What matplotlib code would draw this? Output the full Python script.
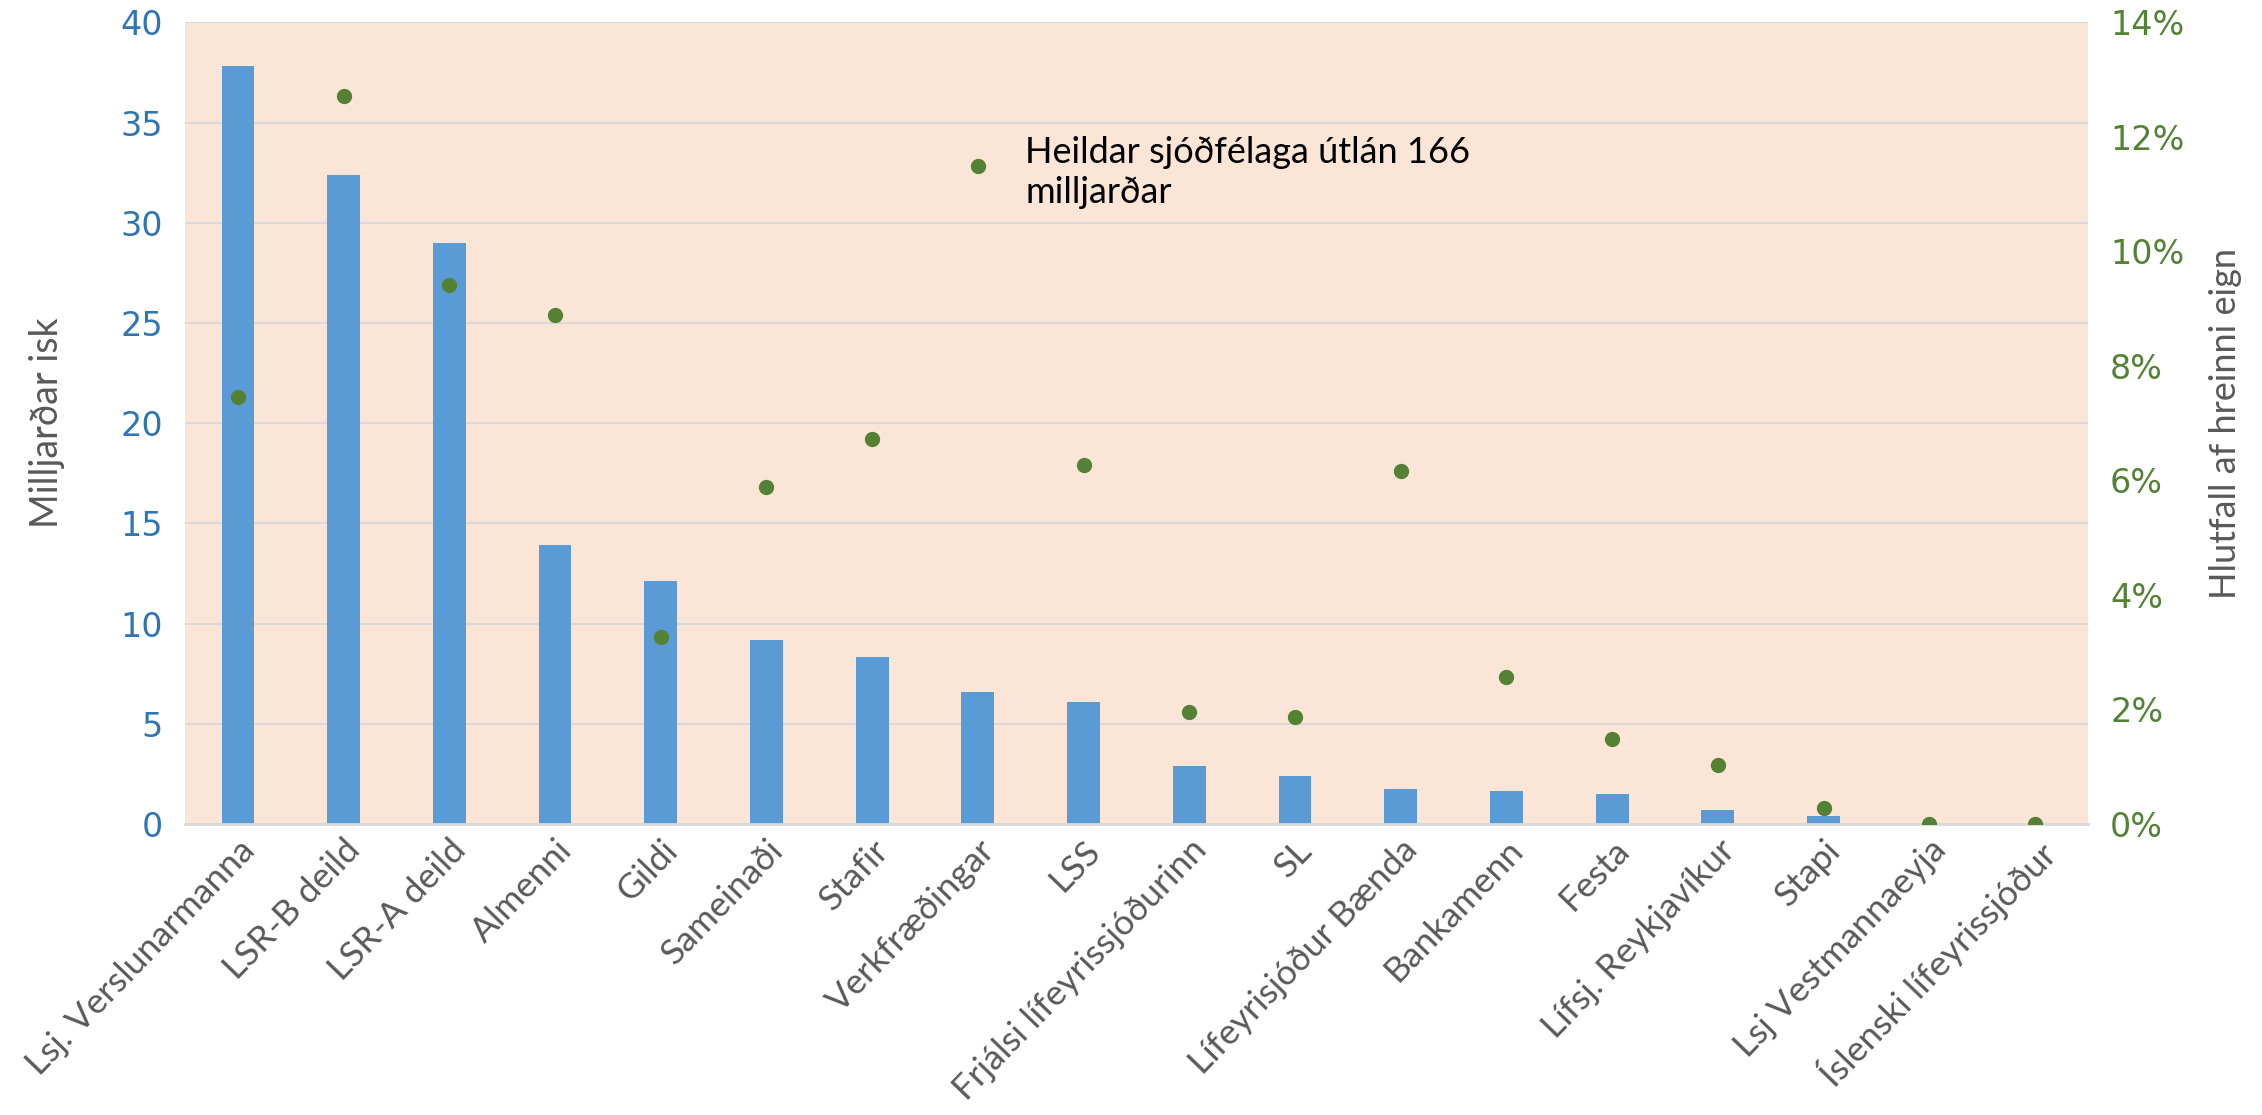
import matplotlib
matplotlib.use("Agg")
import matplotlib.pyplot as plt
from matplotlib.ticker import FuncFormatter

# sjóðir, útlán (milljarðar) og hlutfall af hreinni eign (%)
sjodir = ["Lsj. Verslunarmanna", "LSR-B deild", "LSR-A deild", "Almenni", "Gildi",
          "Sameinaði", "Stafir", "Verkfræðingar", "LSS", "Frjálsi lífeyrissjóðurinn",
          "SL", "Lífeyrisjóður Bænda", "Bankamenn", "Festa", "Lífsj. Reykjavíkur",
          "Stapi", "Lsj Vestmannaeyja", "Íslenski lífeyrissjóður"]
utlan = [37.8, 32.4, 29.0, 13.9, 12.1, 9.2, 8.35, 6.6, 6.1, 2.9,
         2.4, 1.75, 1.65, 1.5, 0.7, 0.4, 0.0, 0.0]
hlutfall = [7.45, 12.72, 9.42, 8.89, 3.27, 5.89, 6.72, 11.49, 6.27, 1.96,
            1.86, 6.17, 2.57, 1.49, 1.03, 0.28, 0.0, 0.0]
left_ticks = [0, 5, 10, 15, 20, 25, 30, 35, 40]
right_ticks = [0, 2, 4, 6, 8, 10, 12, 14]

bar_col = "#5B9BD5"
dot_col = "#548235"
grey = "#595959"
txt_font = ["Lato", "DejaVu Sans"]

fig = plt.figure(figsize=(22.62, 11.15), dpi=100)
ax = fig.add_axes([0.0818, 0.261, 0.8412, 0.719])
ax.set_facecolor("#FBE5D6")
x = range(len(sjodir))
ax.bar(x, utlan, width=0.31, color=bar_col, zorder=2)
ax.set_xlim(-0.5, len(sjodir) - 0.5)
ax.set_ylim(0, 40)
ax.set_yticks(left_ticks)
ax.yaxis.grid(True, color="#D9D9D9", linewidth=1.5, zorder=0)
ax.set_axisbelow(True)
for s in ["top", "left", "right"]:
    ax.spines[s].set_visible(False)
ax.spines["bottom"].set_color("#D9D9D9")
ax.spines["bottom"].set_linewidth(2)
ax.tick_params(axis="y", length=0, pad=16, labelsize=24, labelcolor="#2E75B6")
ax.tick_params(axis="x", length=0, pad=7)
ax.set_xticks(list(x))
ax.set_xticklabels(sjodir, rotation=46, ha="right", rotation_mode="anchor",
                   fontsize=25.5, color=grey, family=txt_font)
ax.set_ylabel("Milljarðar isk", fontsize=27, color=grey, family=txt_font, labelpad=40)

ax2 = ax.twinx()
ax2.plot(list(x), hlutfall, "o", color=dot_col, markersize=10, zorder=3)
ax2.set_ylim(0, 14)
ax2.set_yticks(right_ticks)
ax2.yaxis.set_major_formatter(FuncFormatter(lambda v, p: f"{v:.0f}%"))
for s in ["top", "left", "right", "bottom"]:
    ax2.spines[s].set_visible(False)
ax2.tick_params(axis="y", length=0, pad=16, labelsize=24, labelcolor=dot_col)
ax2.set_ylabel("Hlutfall af hreinni eign", fontsize=26, color=grey, family=txt_font,
               labelpad=18)

ax2.text(7.45, 11.38, "Heildar sjóðfélaga útlán 166\nmilljarðar", fontsize=26,
         color="black", family=txt_font, va="center", ha="left", linespacing=1.25)

fig.savefig("out.png", dpi=100)
